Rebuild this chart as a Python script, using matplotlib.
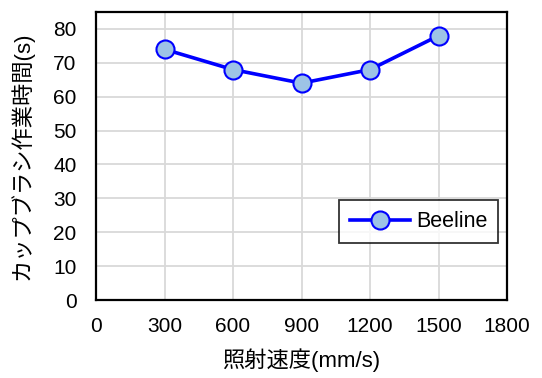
import matplotlib.pyplot as plt

plt.rcParams['font.family'] = ['Liberation Sans', 'Noto Sans CJK JP']

# Cup brush work time per irradiation speed
speeds = [300, 600, 900, 1200, 1500]
work_time = [74, 68, 64, 68, 78]
x_ticks = [0, 300, 600, 900, 1200, 1500, 1800]
y_ticks = [0, 10, 20, 30, 40, 50, 60, 70, 80]

fig = plt.figure(figsize=(5.42, 3.78), dpi=100)
ax = fig.add_axes([96 / 542, 1 - 300 / 378, (507 - 96) / 542, (300 - 12) / 378])

ax.plot(speeds, work_time, color='#0000FF', linewidth=2.6, marker='o',
        markersize=13, markerfacecolor='#9DC3E6', markeredgecolor='#0000FF',
        markeredgewidth=1.5, label='Beeline', zorder=3)

ax.set_xlim(0, 1800)
ax.set_ylim(0, 85)
ax.set_xticks(x_ticks)
ax.set_yticks(y_ticks)
ax.tick_params(labelsize=15, length=0)
ax.tick_params(axis='y', pad=14)
ax.tick_params(axis='x', pad=12)
ax.grid(color='#D9D9D9', linewidth=1.3)
ax.set_axisbelow(True)
for s in ax.spines.values():
    s.set_linewidth(1.6)
    s.set_color('black')

ax.set_xlabel('照射速度(mm/s)', fontsize=16, labelpad=9)
ax.set_ylabel('カップブラシ作業時間(s)', fontsize=16, labelpad=14)

leg = ax.legend(loc='lower right', bbox_to_anchor=(0.978, 0.198), borderaxespad=0,
                fontsize=15.5, frameon=True, fancybox=False, edgecolor='black',
                handlelength=2.8, borderpad=0.5, handletextpad=0.25)
leg.get_frame().set_linewidth(1.3)

fig.savefig('out.png', dpi=100)
